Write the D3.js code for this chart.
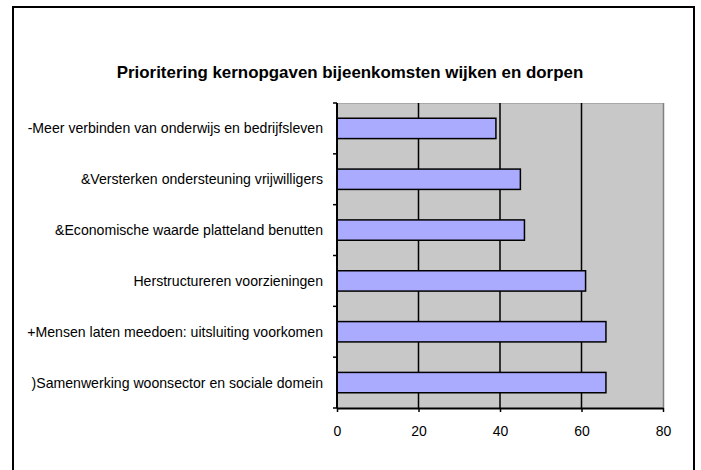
<!DOCTYPE html>
<html>
<head>
<meta charset="utf-8">
<script src="https://cdn.jsdelivr.net/npm/d3@7"></script>
<style>
  body { margin: 0; background: #fff; }
  svg { display: block; font-family: "Liberation Sans", Arial, sans-serif; }
</style>
</head>
<body>
<div id="chart"></div>
<script>
// Chart data (top to bottom as shown)
const categories = [
    "-Meer verbinden van onderwijs en bedrijfsleven",
    "&Versterken ondersteuning vrijwilligers",
    "&Economische waarde platteland benutten",
    "Herstructureren voorzieningen",
    "+Mensen laten meedoen: uitsluiting voorkomen",
    ")Samenwerking woonsector en sociale domein"
];
const values = [39, 45, 46, 61, 66, 66];
const xTicks = [0, 20, 40, 60, 80];
const title = "Prioritering kernopgaven bijeenkomsten wijken en dorpen";

const W = 701, H = 470;
const plot = {left: 337, top: 103, right: 663, bottom: 408};

const svg = d3.select("#chart")
    .append("svg")
    .attr("width", W)
    .attr("height", H);

// Outer frame (bottom is cut off in the picture)
svg.append("path")
    .attr("d", `M13,${H} L13,7 L694,7 L694,${H}`)
    .attr("fill", "none")
    .attr("stroke", "#000")
    .attr("stroke-width", 2);

// Title
svg.append("text")
    .attr("x", 350)
    .attr("y", 78)
    .attr("text-anchor", "middle")
    .style("font-size", "16.9px")
    .style("font-weight", "bold")
    .text(title);

// Scales
const x = d3.scaleLinear()
    .domain([0, 80])
    .range([plot.left, plot.right]);

const y = d3.scaleBand()
    .domain(categories)
    .range([plot.top, plot.bottom])
    .paddingInner(0.6)
    .paddingOuter(0.3);

const yBand = d3.scaleBand()
    .domain(categories)
    .range([plot.top, plot.bottom]);

// Plot background
svg.append("rect")
    .attr("x", plot.left)
    .attr("y", plot.top)
    .attr("width", plot.right - plot.left)
    .attr("height", plot.bottom - plot.top)
    .attr("fill", "#c8c8c8");

// Shadow on right edge
svg.append("line")
    .attr("x1", plot.right + 0.5).attr("x2", plot.right + 0.5)
    .attr("y1", plot.top).attr("y2", plot.bottom)
    .attr("stroke", "#808080")
    .attr("stroke-width", 1.5);
svg.append("line")
    .attr("x1", plot.left).attr("x2", plot.right)
    .attr("y1", plot.top + 0.5).attr("y2", plot.top + 0.5)
    .attr("stroke", "#a8a8a8");

// Vertical gridlines
svg.append("g")
    .selectAll("line")
    .data(xTicks.slice(1, -1))
    .enter()
    .append("line")
    .attr("x1", d => x(d)).attr("x2", d => x(d))
    .attr("y1", plot.top).attr("y2", plot.bottom)
    .attr("stroke", "#000")
    .attr("stroke-width", 1.5);

// Bars
svg.selectAll(".bar")
    .data(values)
    .enter()
    .append("rect")
    .attr("class", "bar")
    .attr("x", x(0))
    .attr("y", (d, i) => y(categories[i]))
    .attr("width", d => x(d) - x(0))
    .attr("height", y.bandwidth())
    .attr("fill", "#aaabff")
    .attr("stroke", "#000")
    .attr("stroke-width", 1.5);

// X axis
svg.append("g")
    .attr("transform", `translate(0, ${plot.bottom})`)
    .call(d3.axisBottom(x).tickValues(xTicks).tickSize(4).tickSizeOuter(0))
    .call(g => g.select(".domain").attr("stroke-width", 2))
    .call(g => g.selectAll(".tick line").attr("stroke-width", 1.5))
    .call(g => g.selectAll(".tick text")
        .attr("y", 18)
        .style("font-size", "14px")
        .style("font-family", "Liberation Sans, Arial, sans-serif")
        .attr("fill", "#000"));

// Y axis: ticks at band boundaries
const yBounds = categories.map(c => yBand(c)).concat([plot.bottom]);
svg.append("line")
    .attr("x1", plot.left).attr("x2", plot.left)
    .attr("y1", plot.top).attr("y2", plot.bottom)
    .attr("stroke", "#000")
    .attr("stroke-width", 2);
svg.append("g")
    .selectAll("line")
    .data(yBounds)
    .enter()
    .append("line")
    .attr("x1", plot.left - 4).attr("x2", plot.left)
    .attr("y1", d => d).attr("y2", d => d)
    .attr("stroke", "#000")
    .attr("stroke-width", 1.5);

// Category labels
svg.append("g")
    .selectAll("text")
    .data(categories)
    .enter()
    .append("text")
    .attr("x", 323)
    .attr("y", d => yBand(d) + yBand.bandwidth() / 2)
    .attr("dy", "0.35em")
    .attr("text-anchor", "end")
    .style("font-size", "14.1px")
    .text(d => d);
</script>
</body>
</html>
